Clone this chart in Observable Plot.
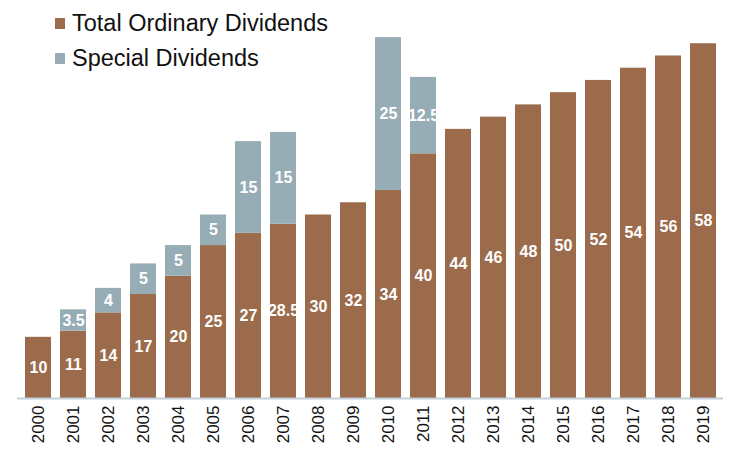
<!DOCTYPE html>
<html><head><meta charset="utf-8">
<script src="https://cdn.jsdelivr.net/npm/d3@7"></script>
<script src="https://cdn.jsdelivr.net/npm/@observablehq/plot@0.6"></script>
<style>
body{margin:0;background:#fff;font-family:"Liberation Sans",Arial,sans-serif;}
#wrap{position:relative;width:736px;height:465px;}
#legend{position:absolute;left:55px;top:6px;font-size:23.5px;color:#111;line-height:35px;}
#legend div{display:flex;align-items:center;}
#legend span.sw{display:inline-block;width:10px;height:11px;margin-right:7px;}
</style></head>
<body><div id="wrap"><div id="legend"></div></div>
<script>
const years = ["2000","2001","2002","2003","2004","2005","2006","2007","2008","2009","2010","2011","2012","2013","2014","2015","2016","2017","2018","2019"];
const ordinary = [10,11,14,17,20,25,27,28.5,30,32,34,40,44,46,48,50,52,54,56,58];
const special = [0,3.5,4,5,5,5,15,15,0,0,25,12.5,0,0,0,0,0,0,0,0];
const seriesNames = ["Total Ordinary Dividends","Special Dividends"];
const colors = ["#9b6b4b","#97adb6"];

const rows = [];
years.forEach((y,i)=>{
  rows.push({year:y, series:seriesNames[0], value:ordinary[i]});
  if (special[i] > 0) rows.push({year:y, series:seriesNames[1], value:special[i]});
});

const chart = Plot.plot({
  width:736, height:465,
  marginLeft:17, marginRight:13, marginTop:31, marginBottom:67,
  x:{domain:years, paddingInner:0.26, paddingOuter:0.13, label:null, tickRotate:-90, tickSize:0, tickPadding:7},
  y:{domain:[0,60], axis:null},
  color:{domain:seriesNames, range:colors},
  style:{fontFamily:"Liberation Sans, Arial, sans-serif", fontSize:"17px", color:"#111"},
  marks:[
    Plot.barY(rows, Plot.stackY({x:"year", y:"value", fill:"series", order:seriesNames})),
    Plot.text(rows, Plot.stackY({x:"year", y:"value", z:"series", order:seriesNames, text:d=>String(d.value), fill:"white", fontWeight:"bold", fontSize:16, fontFamily:"Liberation Sans Narrow, Arial Narrow, Liberation Sans, sans-serif"})),
    Plot.ruleY([0], {stroke:"#c3d0dc", strokeWidth:2})
  ]
});
document.getElementById("wrap").prepend(chart);
const lg = document.getElementById("legend");
seriesNames.forEach((n,i)=>{
  const d = document.createElement("div");
  d.innerHTML = `<span class="sw" style="background:${colors[i]}"></span>${n}`;
  lg.appendChild(d);
});
</script></body></html>
